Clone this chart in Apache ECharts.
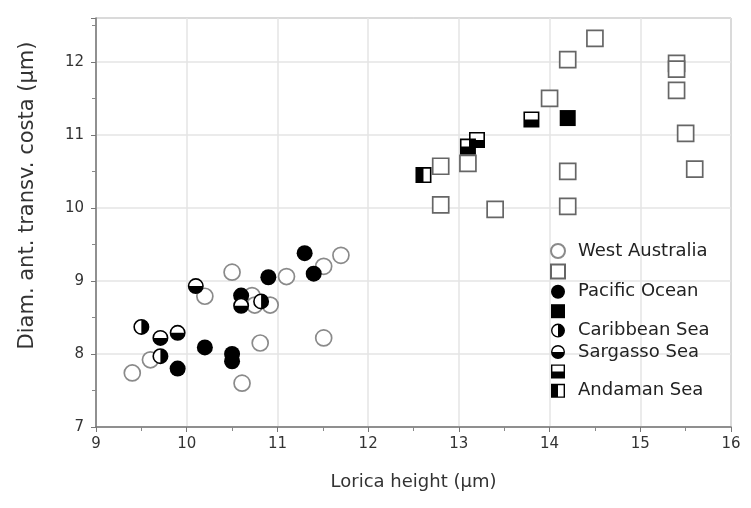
<!DOCTYPE html>
<html>
<head>
<meta charset="utf-8">
<script src="https://cdn.jsdelivr.net/npm/echarts@6/dist/echarts.min.js"></script>
<style>html,body{margin:0;padding:0;background:#fff}#c{width:751px;height:508px}</style>
</head>
<body>
<div id="c"></div>
<script>
// ---- data ----
const waCircX = [9.40, 9.60, 10.20, 10.50, 10.61, 10.72, 10.75, 10.92, 10.81, 11.10, 11.51, 11.70, 11.51];
const waCircY = [7.74, 7.92, 8.79, 9.12, 7.60, 8.80, 8.67, 8.67, 8.15, 9.06, 9.20, 9.35, 8.22];
const waSqX = [12.80, 12.80, 13.10, 13.40, 14.00, 14.20, 14.20, 14.20, 14.50, 15.40, 15.40, 15.40, 15.50, 15.60];
const waSqY = [10.57, 10.04, 10.61, 9.98, 11.50, 12.03, 10.50, 10.02, 12.32, 11.98, 11.90, 11.61, 11.02, 10.53];
const pacCircX = [9.90, 10.20, 10.50, 10.50, 10.60, 10.90, 11.30, 11.40];
const pacCircY = [7.80, 8.09, 8.00, 7.90, 8.80, 9.05, 9.38, 9.10];
const pacSqX = [14.20];
const pacSqY = [11.23];
const carX = [9.50, 9.71, 10.82];
const carY = [8.37, 7.97, 8.72];
const sarCircX = [9.71, 9.90, 10.10, 10.60];
const sarCircY = [8.22, 8.29, 8.93, 8.66];
const sarSqX = [13.10, 13.20, 13.80];
const sarSqY = [10.84, 10.93, 11.21];
const andX = [12.61];
const andY = [10.45];

const legendNames = ['West Australia', 'WA_sq', 'Pacific Ocean', 'PO_sq', 'Caribbean Sea', 'Sargasso Sea', 'SS_sq', 'Andaman Sea'];
const legendLabels = {'West Australia':'West Australia','WA_sq':'','Pacific Ocean':'Pacific Ocean','PO_sq':'','Caribbean Sea':'Caribbean Sea','Sargasso Sea':'Sargasso Sea','SS_sq':'','Andaman Sea':'Andaman Sea'};

const xTicksMin = 9, xTicksMax = 16, yTicksMin = 7, yTicksMax = 12.6;

function pairs(xs, ys) { return xs.map((x, i) => [x, ys[i]]); }

// symbol paths
const ring = 'M0 10 A10 10 0 1 1 20 10 A10 10 0 1 1 0 10 Z M2 10 A8 8 0 1 0 18 10 A8 8 0 1 0 2 10 Z ';
const carPath = 'path://' + ring + 'M10 2 A8 8 0 0 1 10 18 Z';
const sarPath = 'path://' + ring + 'M2 10 A8 8 0 0 0 18 10 Z';
const sqPath = 'path://M0 0 H20 V20 H0 Z';
const frame = 'M0 0 H20 V20 H0 Z M2 2 V18 H18 V2 Z ';
const sarSqPath = 'path://' + frame + 'M2 10 H18 V18 H2 Z';
const andPath = 'path://' + frame + 'M2 2 H10 V18 H2 Z';

const FONT = 'DejaVu Sans';
const SZ = 16;

function bg(data, symbol) {
  return { type: 'scatter', name: 'bg', data: data, symbol: symbol, symbolSize: SZ - 1, symbolKeepAspect: true,
    itemStyle: { color: '#fff', opacity: 1 }, silent: true, emphasis: { disabled: true } };
}
function ser(name, data, symbol, style) {
  return { type: 'scatter', name: name, data: data, symbol: symbol, symbolSize: SZ, symbolKeepAspect: true,
    itemStyle: Object.assign({ opacity: 1 }, style), emphasis: { disabled: true } };
}

const chart = echarts.init(document.getElementById('c'), null, { renderer: 'canvas' });
chart.setOption({
  animation: false,
  backgroundColor: '#fff',
  textStyle: { fontFamily: FONT },
  grid: { left: 96, right: 20, top: 18, bottom: 81, show: true, borderColor: '#777', borderWidth: 1 },
  xAxis: {
    type: 'value', min: xTicksMin, max: xTicksMax, interval: 1,
    name: 'Lorica height (μm)', nameLocation: 'middle', nameGap: 46,
    nameTextStyle: { fontFamily: FONT, fontSize: 18, color: '#333' },
    axisLine: { show: true, onZero: false, lineStyle: { color: '#777', width: 1.5 } },
    axisTick: { show: true, length: 5, lineStyle: { color: '#777' } },
    minorTick: { show: true, splitNumber: 2, length: 4, lineStyle: { color: '#888' } },
    splitLine: { show: true, lineStyle: { color: '#e4e4e4', width: 1.5 } },
    axisLabel: { fontFamily: FONT, fontSize: 15, color: '#333', margin: 10 }
  },
  yAxis: {
    type: 'value', min: yTicksMin, max: yTicksMax, interval: 1,
    name: 'Diam. ant. transv. costa (μm)', nameLocation: 'middle', nameGap: 58,
    nameTextStyle: { fontFamily: FONT, fontSize: 21, color: '#333', padding: [0, 0, 0, 54] },
    axisLine: { show: true, onZero: false, lineStyle: { color: '#777', width: 1.5 } },
    axisTick: { show: true, length: 5, lineStyle: { color: '#777' } },
    minorTick: { show: true, splitNumber: 2, length: 4, lineStyle: { color: '#888' } },
    splitLine: { show: true, lineStyle: { color: '#e4e4e4', width: 1.5 } },
    axisLabel: { fontFamily: FONT, fontSize: 15, color: '#333', margin: 12, showMaxLabel: false }
  },
  legend: {
    orient: 'vertical', left: 550, top: 242, padding: 0,
    itemWidth: 30, itemHeight: 14, itemGap: 3.4,
    data: legendNames,
    formatter: n => legendLabels[n],
    textStyle: { fontFamily: FONT, fontSize: 18, lineHeight: 14, color: '#222' },
    selectedMode: false
  },
  series: [
    ser('West Australia', pairs(waCircX, waCircY), 'circle', { color: '#fff', borderColor: '#8a8a8a', borderWidth: 1.7 }),
    ser('WA_sq', pairs(waSqX, waSqY), sqPath, { color: '#fff', borderColor: '#666', borderWidth: 1.7 }),
    ser('Pacific Ocean', pairs(pacCircX, pacCircY), 'circle', { color: '#000' }),
    ser('PO_sq', pairs(pacSqX, pacSqY), sqPath, { color: '#000' }),
    bg(pairs(carX, carY), 'circle'),
    ser('Caribbean Sea', pairs(carX, carY), carPath, { color: '#000' }),
    bg(pairs(sarCircX, sarCircY), 'circle'),
    ser('Sargasso Sea', pairs(sarCircX, sarCircY), sarPath, { color: '#000' }),
    bg(pairs(sarSqX, sarSqY), sqPath),
    ser('SS_sq', pairs(sarSqX, sarSqY), sarSqPath, { color: '#000' }),
    bg(pairs(andX, andY), sqPath),
    ser('Andaman Sea', pairs(andX, andY), andPath, { color: '#000' })
  ]
});
</script>
</body>
</html>
